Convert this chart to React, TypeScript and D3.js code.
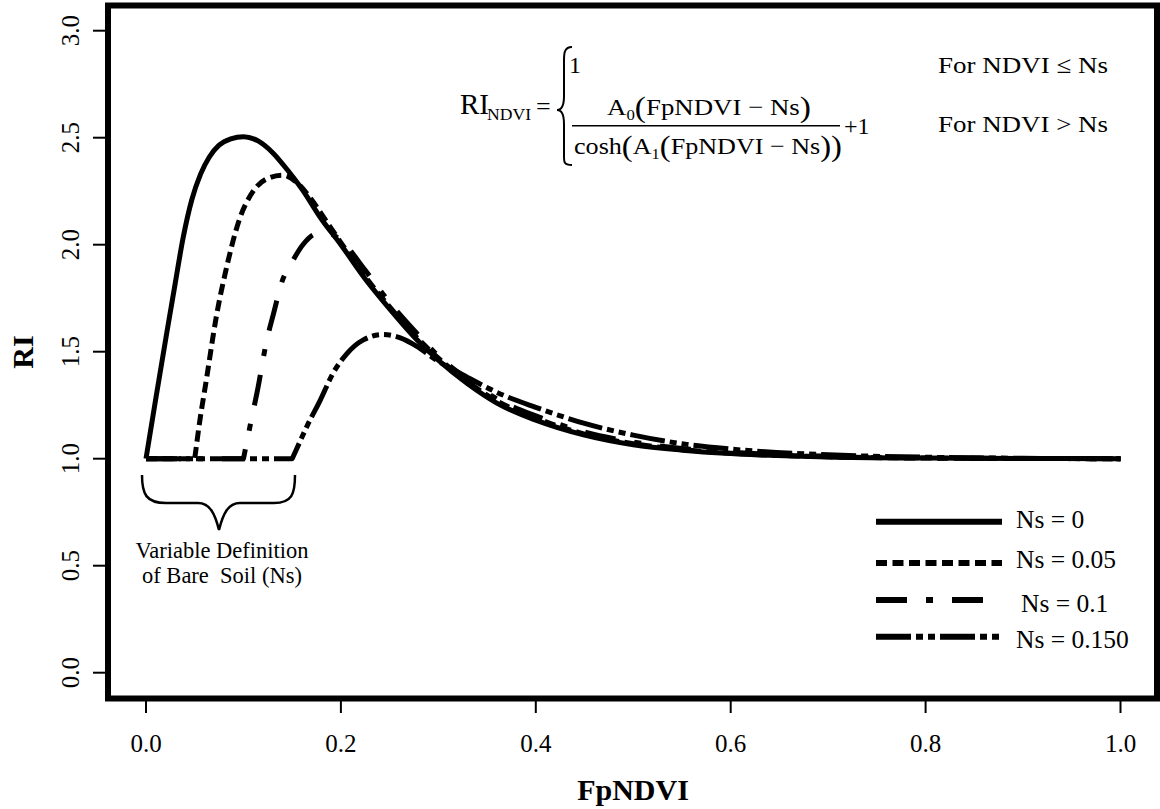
import React from 'react';
import * as d3 from 'd3';

// ---- data ----
const ns0X = [0, 0.01, 0.021, 0.03, 0.038, 0.047, 0.056, 0.065, 0.075, 0.087, 0.1, 0.115, 0.13, 0.145, 0.16, 0.18, 0.2, 0.225, 0.25, 0.275, 0.3, 0.33, 0.36, 0.4, 0.45, 0.5, 0.55, 0.6, 0.7, 0.8, 0.9, 1.0];
const ns0Y = [1.0, 1.28, 1.58, 1.82, 2.03, 2.21, 2.33, 2.41, 2.465, 2.495, 2.505, 2.485, 2.43, 2.35, 2.26, 2.12, 2.0, 1.84, 1.70, 1.57, 1.46, 1.35, 1.26, 1.18, 1.11, 1.065, 1.04, 1.024, 1.008, 1.003, 1.001, 1.0];

const ns05X = [0, 0.05, 0.055, 0.062, 0.072, 0.083, 0.096, 0.11, 0.125, 0.14, 0.155, 0.17, 0.185, 0.2, 0.225, 0.25, 0.275, 0.3, 0.33, 0.36, 0.4, 0.45, 0.5, 0.55, 0.6, 0.7, 0.8, 0.9, 1.0];
const ns05Y = [1, 1, 1.17, 1.37, 1.66, 1.90, 2.12, 2.25, 2.31, 2.325, 2.29, 2.21, 2.11, 2.01, 1.85, 1.71, 1.58, 1.47, 1.36, 1.27, 1.19, 1.115, 1.07, 1.043, 1.026, 1.009, 1.003, 1.001, 1.0];

const ns10X = [0, 0.1, 0.104, 0.108, 0.114, 0.124, 0.131, 0.139, 0.15, 0.161, 0.175, 0.189, 0.2, 0.225, 0.25, 0.275, 0.3, 0.33, 0.36, 0.4, 0.45, 0.5, 0.55, 0.6, 0.7, 0.8, 0.9, 1.0];
const ns10Y = [1, 1, 1.09, 1.18, 1.31, 1.555, 1.68, 1.82, 1.92, 2.0, 2.05, 2.05, 2.02, 1.88, 1.73, 1.6, 1.48, 1.37, 1.28, 1.2, 1.125, 1.078, 1.048, 1.03, 1.011, 1.004, 1.001, 1.0];

const ns15X = [0, 0.15, 0.158, 0.165, 0.179, 0.192, 0.206, 0.223, 0.243, 0.261, 0.278, 0.295, 0.33, 0.36, 0.4, 0.45, 0.5, 0.55, 0.6, 0.7, 0.8, 0.9, 1.0];
const ns15Y = [1, 1, 1.08, 1.15, 1.275, 1.40, 1.49, 1.555, 1.58, 1.565, 1.525, 1.47, 1.38, 1.31, 1.24, 1.165, 1.11, 1.07, 1.045, 1.018, 1.007, 1.002, 1.0];

const nsValues = [0, 0.05, 0.1, 0.15];
const legendLabels = ['Ns = 0', 'Ns = 0.05', 'Ns = 0.1', 'Ns = 0.150'];
const dashPatterns = ['none', '11,5.5', '31,19,7,19', '35,5,7,5,7,5'];
const xTicks = [0, 0.2, 0.4, 0.6, 0.8, 1.0];
const yTicks = [0, 0.5, 1.0, 1.5, 2.0, 2.5, 3.0];

const seriesX = [ns0X, ns05X, ns10X, ns15X];
const seriesY = [ns0Y, ns05Y, ns10Y, ns15Y];

const FONT = '"Liberation Serif", "Times New Roman", serif';

export default function App() {
  const x = d3.scaleLinear().domain([0, 1]).range([146, 1120.5]);
  const y = d3.scaleLinear().domain([0, 3]).range([672.7, 30.7]);

  const mono = d3
    .line<[number, number]>()
    .x((d) => x(d[0]))
    .y((d) => y(d[1]))
    .curve(d3.curveMonotoneX);

  const buildPath = (i: number) => {
    const ns = nsValues[i];
    const pts: [number, number][] = seriesX[i].map((v, k) => [v, seriesY[i][k]]);
    if (ns === 0) return mono(pts) || '';
    const rest = pts.filter((p) => p[0] >= ns);
    const start = pts[0];
    const m = mono(rest) || '';
    return `M${x(start[0])},${y(start[1])}L` + m.slice(1);
  };

  const legendY = [521.7, 563, 600, 636.7];
  const legendTextY = [528, 568, 612, 648];

  return (
    <svg
      width={1160}
      height={809}
      style={{ position: 'absolute', left: 0, top: 0, background: '#fff' }}
      fontFamily={FONT}
    >
      <rect x={0} y={0} width={1160} height={809} fill="#ffffff" />
      {/* box */}
      <rect x={108} y={5.5} width={1049} height={693} fill="none" stroke="#000" strokeWidth={6} />

      {/* y axis ticks */}
      {yTicks.map((t) => (
        <g key={'y' + t}>
          <line x1={93} x2={106} y1={y(t)} y2={y(t)} stroke="#000" strokeWidth={2} />
          <text
            transform={`translate(79,${y(t)}) rotate(-90)`}
            textAnchor="middle"
            fontSize={25}
            fill="#000"
          >
            {t.toFixed(1)}
          </text>
        </g>
      ))}
      {/* x axis ticks */}
      {xTicks.map((t) => (
        <g key={'x' + t}>
          <line x1={x(t)} x2={x(t)} y1={701} y2={713} stroke="#000" strokeWidth={2} />
          <text x={x(t)} y={752} textAnchor="middle" fontSize={25} fill="#000">
            {t.toFixed(1)}
          </text>
        </g>
      ))}

      {/* axis titles */}
      <text x={633} y={800} textAnchor="middle" fontSize={30} fontWeight="bold">
        FpNDVI
      </text>
      <text transform="translate(33,352) rotate(-90)" textAnchor="middle" fontSize={30} fontWeight="bold">
        RI
      </text>

      {/* curves */}
      {nsValues.map((ns, i) => (
        <path
          key={'c' + ns}
          d={buildPath(i)}
          fill="none"
          stroke="#000"
          strokeWidth={5}
          strokeDasharray={dashPatterns[i]}
          strokeLinejoin="round"
        />
      ))}

      {/* legend */}
      {legendLabels.map((lab, i) => (
        <g key={lab}>
          <line
            x1={876}
            x2={1002}
            y1={legendY[i]}
            y2={legendY[i]}
            stroke="#000"
            strokeWidth={6}
            strokeDasharray={dashPatterns[i]}
          />
          <text x={i === 2 ? 1021 : 1016} y={legendTextY[i]} fontSize={25.5}>
            {lab}
          </text>
        </g>
      ))}

      {/* brace under bare soil range */}
      <path
        d="M142,475 C142,494 146,503 166,503 L198,503 C210,503 215,514 219,530 C223,514 228,503 240,503 L274,503 C292,503 295,494 295,475"
        fill="none"
        stroke="#000"
        strokeWidth={2.5}
      />
      <text x={222} y={558} textAnchor="middle" fontSize={22.5}>
        Variable Definition
      </text>
      <text x={222} y={583} textAnchor="middle" fontSize={22.5} style={{ whiteSpace: 'pre' }}>
        of Bare  Soil (Ns)
      </text>

      {/* formula */}
      <text x={460} y={114} fontSize={29}>
        RI
      </text>
      <text x={487} y={120} fontSize={16} textLength={44} lengthAdjust="spacingAndGlyphs">
        NDVI
      </text>
      <text x={536} y={115} fontSize={26}>
        =
      </text>
      <path
        d="M572,47 C563,47 564,55 564,66 L564,96 C564,105 562,110 557,110 C562,110 564,115 564,124 L564,152 C564,162 563,165 572,165"
        fill="none"
        stroke="#000"
        strokeWidth={2}
      />
      <text x={569} y={73} fontSize={24}>
        1
      </text>
      <text x={607} y={115} fontSize={24} textLength={204} lengthAdjust="spacingAndGlyphs">
        <tspan>A</tspan>
        <tspan fontSize={15} dy={5}>0</tspan>
        <tspan fontSize={30} dy={-3}>(</tspan>
        <tspan fontSize={24} dy={-2}>FpNDVI − Ns</tspan>
        <tspan fontSize={30} dy={2}>)</tspan>
      </text>
      <line x1={572} x2={840} y1={125.7} y2={125.7} stroke="#000" strokeWidth={1.5} />
      <text x={574} y={154} fontSize={24} textLength={268} lengthAdjust="spacingAndGlyphs">
        <tspan>cosh</tspan>
        <tspan fontSize={30} dy={2}>(</tspan>
        <tspan fontSize={24} dy={-2}>A</tspan>
        <tspan fontSize={15} dy={5}>1</tspan>
        <tspan fontSize={30} dy={-3}>(</tspan>
        <tspan fontSize={24} dy={-2}>FpNDVI − Ns</tspan>
        <tspan fontSize={30} dy={2}>))</tspan>
      </text>
      <text x={844} y={134} fontSize={24}>
        +1
      </text>
      <text x={938} y={73} fontSize={24} textLength={170} lengthAdjust="spacingAndGlyphs">
        For NDVI ≤ Ns
      </text>
      <text x={938} y={132} fontSize={24} textLength={170} lengthAdjust="spacingAndGlyphs">
        For NDVI &gt; Ns
      </text>
    </svg>
  );
}
